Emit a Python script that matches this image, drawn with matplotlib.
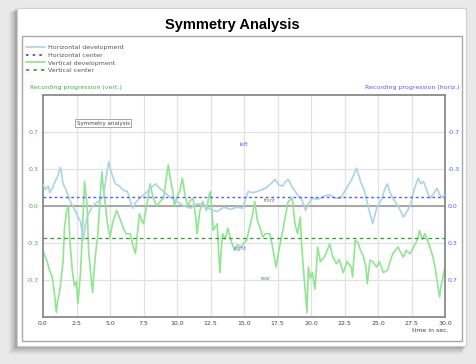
import matplotlib.pyplot as plt
from matplotlib.patches import Rectangle
import numpy as np

# horizontal development (light blue), time in sec. / value
h_t = [0.0, 0.2, 0.4, 0.5, 0.7, 0.9, 1.1, 1.3, 1.4, 1.5, 1.7, 1.9, 2.2, 2.4, 2.6, 2.8, 2.9, 3.0,
       3.15, 3.3, 3.5, 3.7, 4.0, 4.3, 4.5, 4.7, 4.9, 5.1, 5.4, 5.7, 6.0, 6.3, 6.5, 6.7, 6.9, 7.2,
       7.5, 7.8, 8.1, 8.4, 8.7, 9.0, 9.3, 9.6, 10.0, 10.5, 11.0, 11.5, 12.0, 12.5, 13.0, 13.5,
       14.0, 14.5, 14.9, 15.1, 15.3, 15.7, 16.2, 16.6, 17.0, 17.3, 17.6, 17.9, 18.1, 18.3, 18.6,
       19.0, 19.3, 19.6, 19.8, 20.1, 20.5, 21.0, 21.4, 21.8, 22.2, 22.6, 23.0, 23.4, 23.7, 24.0,
       24.3, 24.6, 24.9, 25.3, 25.5, 25.7, 25.9, 26.1, 26.5, 26.9, 27.2, 27.4, 27.7, 28.0, 28.2,
       28.4, 28.7, 28.9, 29.2, 29.4, 29.7, 30.0]
h_v = [0.19, 0.15, 0.18, 0.12, 0.16, 0.22, 0.27, 0.35, 0.28, 0.2, 0.15, 0.08, 0.0, -0.04, -0.1,
       -0.14, -0.22, -0.31, -0.18, -0.1, -0.05, 0.0, 0.03, 0.06, 0.08, 0.25, 0.4, 0.3, 0.2, 0.18,
       0.14, 0.13, 0.05, -0.02, 0.03, 0.07, 0.1, 0.13, 0.17, 0.2, 0.16, 0.13, 0.1, 0.07, 0.04,
       0.0, -0.02, 0.02, 0.01, -0.03, -0.05, -0.01, -0.03, -0.01, -0.02, 0.06, 0.13, 0.12, 0.14,
       0.16, 0.2, 0.24, 0.19, 0.18, 0.22, 0.24, 0.17, 0.1, 0.06, -0.04, 0.02, 0.07, 0.06, 0.09,
       0.1, 0.07, 0.07, 0.15, 0.23, 0.34, 0.22, 0.13, -0.02, -0.16, -0.02, 0.07, 0.15, 0.2, 0.12,
       0.07, 0.0, -0.1, -0.04, 0.0, 0.15, 0.25, 0.2, 0.22, 0.12, 0.07, 0.12, 0.16, 0.08, 0.1]

# vertical development (light green)
v_t = [0.0, 0.15, 0.3, 0.5, 0.7, 0.8, 0.9, 1.0, 1.1, 1.2, 1.3, 1.4, 1.5, 1.6, 1.75, 1.9, 2.0,
       2.1, 2.2, 2.35, 2.5, 2.6, 2.7, 2.8, 2.9, 3.0, 3.1, 3.2, 3.3, 3.4, 3.55, 3.7, 3.8, 3.9,
       4.0, 4.1, 4.2, 4.3, 4.4, 4.5, 4.6, 4.8, 5.0, 5.2, 5.5, 5.7, 6.0, 6.2, 6.5, 6.7, 6.9, 7.0,
       7.2, 7.4, 7.5, 7.8, 8.0, 8.2, 8.5, 8.8, 9.0, 9.2, 9.35, 9.5, 9.7, 9.8, 10.0, 10.2, 10.4,
       10.6, 10.8, 11.0, 11.2, 11.4, 11.5, 11.7, 11.9, 12.1, 12.2, 12.4, 12.5, 12.6, 12.7, 12.9,
       13.0, 13.1, 13.2, 13.3, 13.4, 13.6, 13.8, 14.0, 14.3, 14.5, 14.8, 15.0, 15.2, 15.4, 15.6,
       15.8, 16.0, 16.2, 16.4, 16.6, 16.9, 17.1, 17.4, 17.6, 17.9, 18.1, 18.3, 18.6, 18.8, 19.0,
       19.2, 19.3, 19.5, 19.6, 19.7, 19.8, 19.95, 20.1, 20.3, 20.5, 20.7, 21.0, 21.2, 21.4, 21.6,
       21.9, 22.1, 22.4, 22.7, 23.0, 23.1, 23.3, 23.5, 23.7, 23.9, 24.1, 24.2, 24.4, 24.6, 24.9,
       25.1, 25.4, 25.7, 25.9, 26.1, 26.3, 26.5, 26.7, 26.9, 27.1, 27.4, 27.6, 27.8, 28.0, 28.1,
       28.3, 28.5, 28.7, 28.9, 29.1, 29.3, 29.4, 29.6, 29.7, 29.8, 30.0]
v_v = [-0.4, -0.45, -0.5, -0.58, -0.65, -0.73, -0.85, -0.96, -0.85, -0.8, -0.72, -0.6, -0.5,
       -0.2, -0.05, 0.0, -0.3, -0.45, -0.6, -0.72, -0.68, -0.88, -0.75, -0.6, -0.35, -0.05, 0.22,
       0.1, 0.0, -0.4, -0.6, -0.78, -0.6, -0.46, -0.35, -0.25, -0.05, 0.15, 0.31, 0.15, 0.07,
       -0.15, -0.28, -0.15, -0.04, -0.1, -0.2, -0.25, -0.25, -0.35, -0.43, -0.3, -0.07, -0.14,
       -0.16, 0.05, 0.2, 0.08, 0.0, 0.05, 0.07, 0.25, 0.37, 0.25, 0.13, 0.0, 0.08, 0.13, 0.25,
       0.1, 0.0, 0.05, 0.07, -0.1, -0.25, -0.05, 0.04, 0.0, -0.04, 0.1, 0.13, -0.05, -0.22,
       -0.18, -0.16, -0.4, -0.6, -0.4, -0.25, -0.3, -0.2, -0.3, -0.4, -0.35, -0.37, -0.33, -0.31,
       -0.2, -0.1, 0.04, -0.13, -0.2, -0.28, -0.25, -0.25, -0.35, -0.55, -0.4, -0.22, -0.08,
       0.04, 0.07, -0.16, -0.25, -0.1, -0.35, -0.67, -0.8, -0.96, -0.55, -0.65, -0.6, -0.75,
       -0.37, -0.5, -0.46, -0.4, -0.34, -0.45, -0.52, -0.48, -0.6, -0.5, -0.55, -0.64, -0.31,
       -0.33, -0.4, -0.45, -0.55, -0.7, -0.49, -0.5, -0.55, -0.5, -0.6, -0.58, -0.5, -0.43, -0.4,
       -0.37, -0.42, -0.46, -0.4, -0.43, -0.38, -0.34, -0.28, -0.22, -0.3, -0.25, -0.31, -0.38,
       -0.46, -0.58, -0.67, -0.82, -0.72, -0.67, -0.55]

h_center = 0.08
v_center = -0.29

x_ticks = [0, 2.5, 5, 7.5, 10, 12.5, 15, 17.5, 20, 22.5, 25, 27.5, 30]
y_ticks = [-2/3, -1/3, 0, 1/3, 2/3]
left_labels = ['-0.7', '-0.3', '0.0', '0.3', '0.7']
right_labels = ['0.7', '0.3', '0.0', '-0.3', '-0.7']

W, H = 476, 364
fig = plt.figure(figsize=(W / 100, H / 100), dpi=100)
fig.patch.set_facecolor('#e9e9e9')


def px_rect(x0, y0, x1, y1, **kw):
    # rectangle in pixel coords (origin top-left), kept behind the axes
    r = Rectangle((x0 / W, 1 - y1 / H), (x1 - x0) / W, (y1 - y0) / H,
                  transform=fig.transFigure, zorder=-10, **kw)
    fig.patches.append(r)


# window shadow, then white window, then inner frame
for i, a in enumerate([0.05, 0.07, 0.09, 0.12]):
    d = 8 - 2 * i
    px_rect(17 - d, 8 + d / 2, 466 - d / 2, 346 + d, facecolor='#000000', edgecolor='none', alpha=a)
px_rect(17, 8, 466, 346, facecolor='white', edgecolor='#d0d0d0', lw=0.8)
px_rect(22, 36, 462, 341, facecolor='white', edgecolor='#a8a8a8', lw=1.0)

fig.text(232 / W, 1 - 25 / H, 'Symmetry Analysis', ha='center', va='center',
         fontsize=10.5, fontweight='bold', family='Liberation Sans')

ax = fig.add_axes([43 / W, 1 - 317 / H, (445 - 43) / W, (317 - 95) / H])
ax.set_xlim(0, 30)
ax.set_ylim(-1, 1)

# grid
for x in x_ticks[1:-1]:
    ax.axvline(x, color='#e2e2e2', lw=0.9, zorder=0)
for y in y_ticks:
    ax.axhline(y, color='#e2e2e2', lw=0.9, zorder=0)
ax.axhline(0, color='#9a9a9a', lw=1.2, zorder=1)

ax.plot(v_t, v_v, color='#90e690', lw=1.2, zorder=2)
ax.plot(h_t, h_v, color='#a9d5e5', lw=1.2, zorder=3)
ax.axhline(h_center, color='#5a5aff', lw=1.0, ls=(0, (2, 2)), zorder=4)
ax.axhline(v_center, color='#2f9f2f', lw=0.9, ls=(0, (3, 2.5)), zorder=4)

# labels inside the plot
ax.text(15, 0.55, 'left', color='#6a6aff', fontsize=4, ha='center', va='center')
ax.text(14.7, -0.38, 'right', color='#6a6aff', fontsize=4, ha='center', va='center')
ax.text(16.9, 0.05, 'front', color='#6c8c5c', fontsize=3.5, ha='center', va='center')
ax.text(16.6, -0.65, 'rear', color='#6c8c5c', fontsize=3.5, ha='center', va='center')
ax.text(4.5, 0.745, 'Symmetry analysis', color='#444444', fontsize=4, ha='center', va='center',
        bbox=dict(facecolor='white', edgecolor='#999999', lw=0.6, boxstyle='square,pad=0.3'))

ax.set_xticks(x_ticks)
ax.set_xticklabels(['%.1f' % x for x in x_ticks], fontsize=4.5, color='#444444')
ax.set_yticks(y_ticks)
ax.set_yticklabels(left_labels, fontsize=4.5, color='#44b044')
ax.tick_params(length=0, pad=3)
for s in ax.spines.values():
    s.set_color('#8a8a8a')
    s.set_linewidth(1.3)

ax2 = ax.twinx()
ax2.set_ylim(-1, 1)
ax2.set_yticks(y_ticks)
ax2.set_yticklabels(right_labels, fontsize=4.5, color='#5a5aff')
ax2.tick_params(length=0, pad=2)
for s in ax2.spines.values():
    s.set_visible(False)

fig.text(430 / W, 1 - 330 / H, 'time in sec.', fontsize=4.5, color='#444444', ha='center', va='center')
fig.text(30 / W, 1 - 87 / H, 'Recording progression (vert.)', fontsize=4.5, color='#44b044',
         ha='left', va='center')
fig.text(460 / W, 1 - 87 / H, 'Recording progression (horiz.)', fontsize=4.5, color='#5a5aff',
         ha='right', va='center')

# legend
leg_items = [
    ('Horizontal development', '#a9d5e5', '-'),
    ('Horizontal center', '#3a3aff', (0, (1.5, 2.5))),
    ('Vertical development', '#8be38b', '-'),
    ('Vertical center', '#2f9f2f', (0, (2, 2.5))),
]
handles = [plt.Line2D([], [], color=c, ls=ls, lw=1.2) for _, c, ls in leg_items]
fig.legend(handles, [n for n, _, _ in leg_items], loc='upper left',
           bbox_to_anchor=(26 / W, 1 - 45 / H), frameon=False, fontsize=4.5,
           handlelength=3, handletextpad=0.5, labelspacing=0.35, borderpad=0,
           borderaxespad=0, labelcolor='#555555')

fig.savefig('out.png', dpi=100, facecolor=fig.get_facecolor())
